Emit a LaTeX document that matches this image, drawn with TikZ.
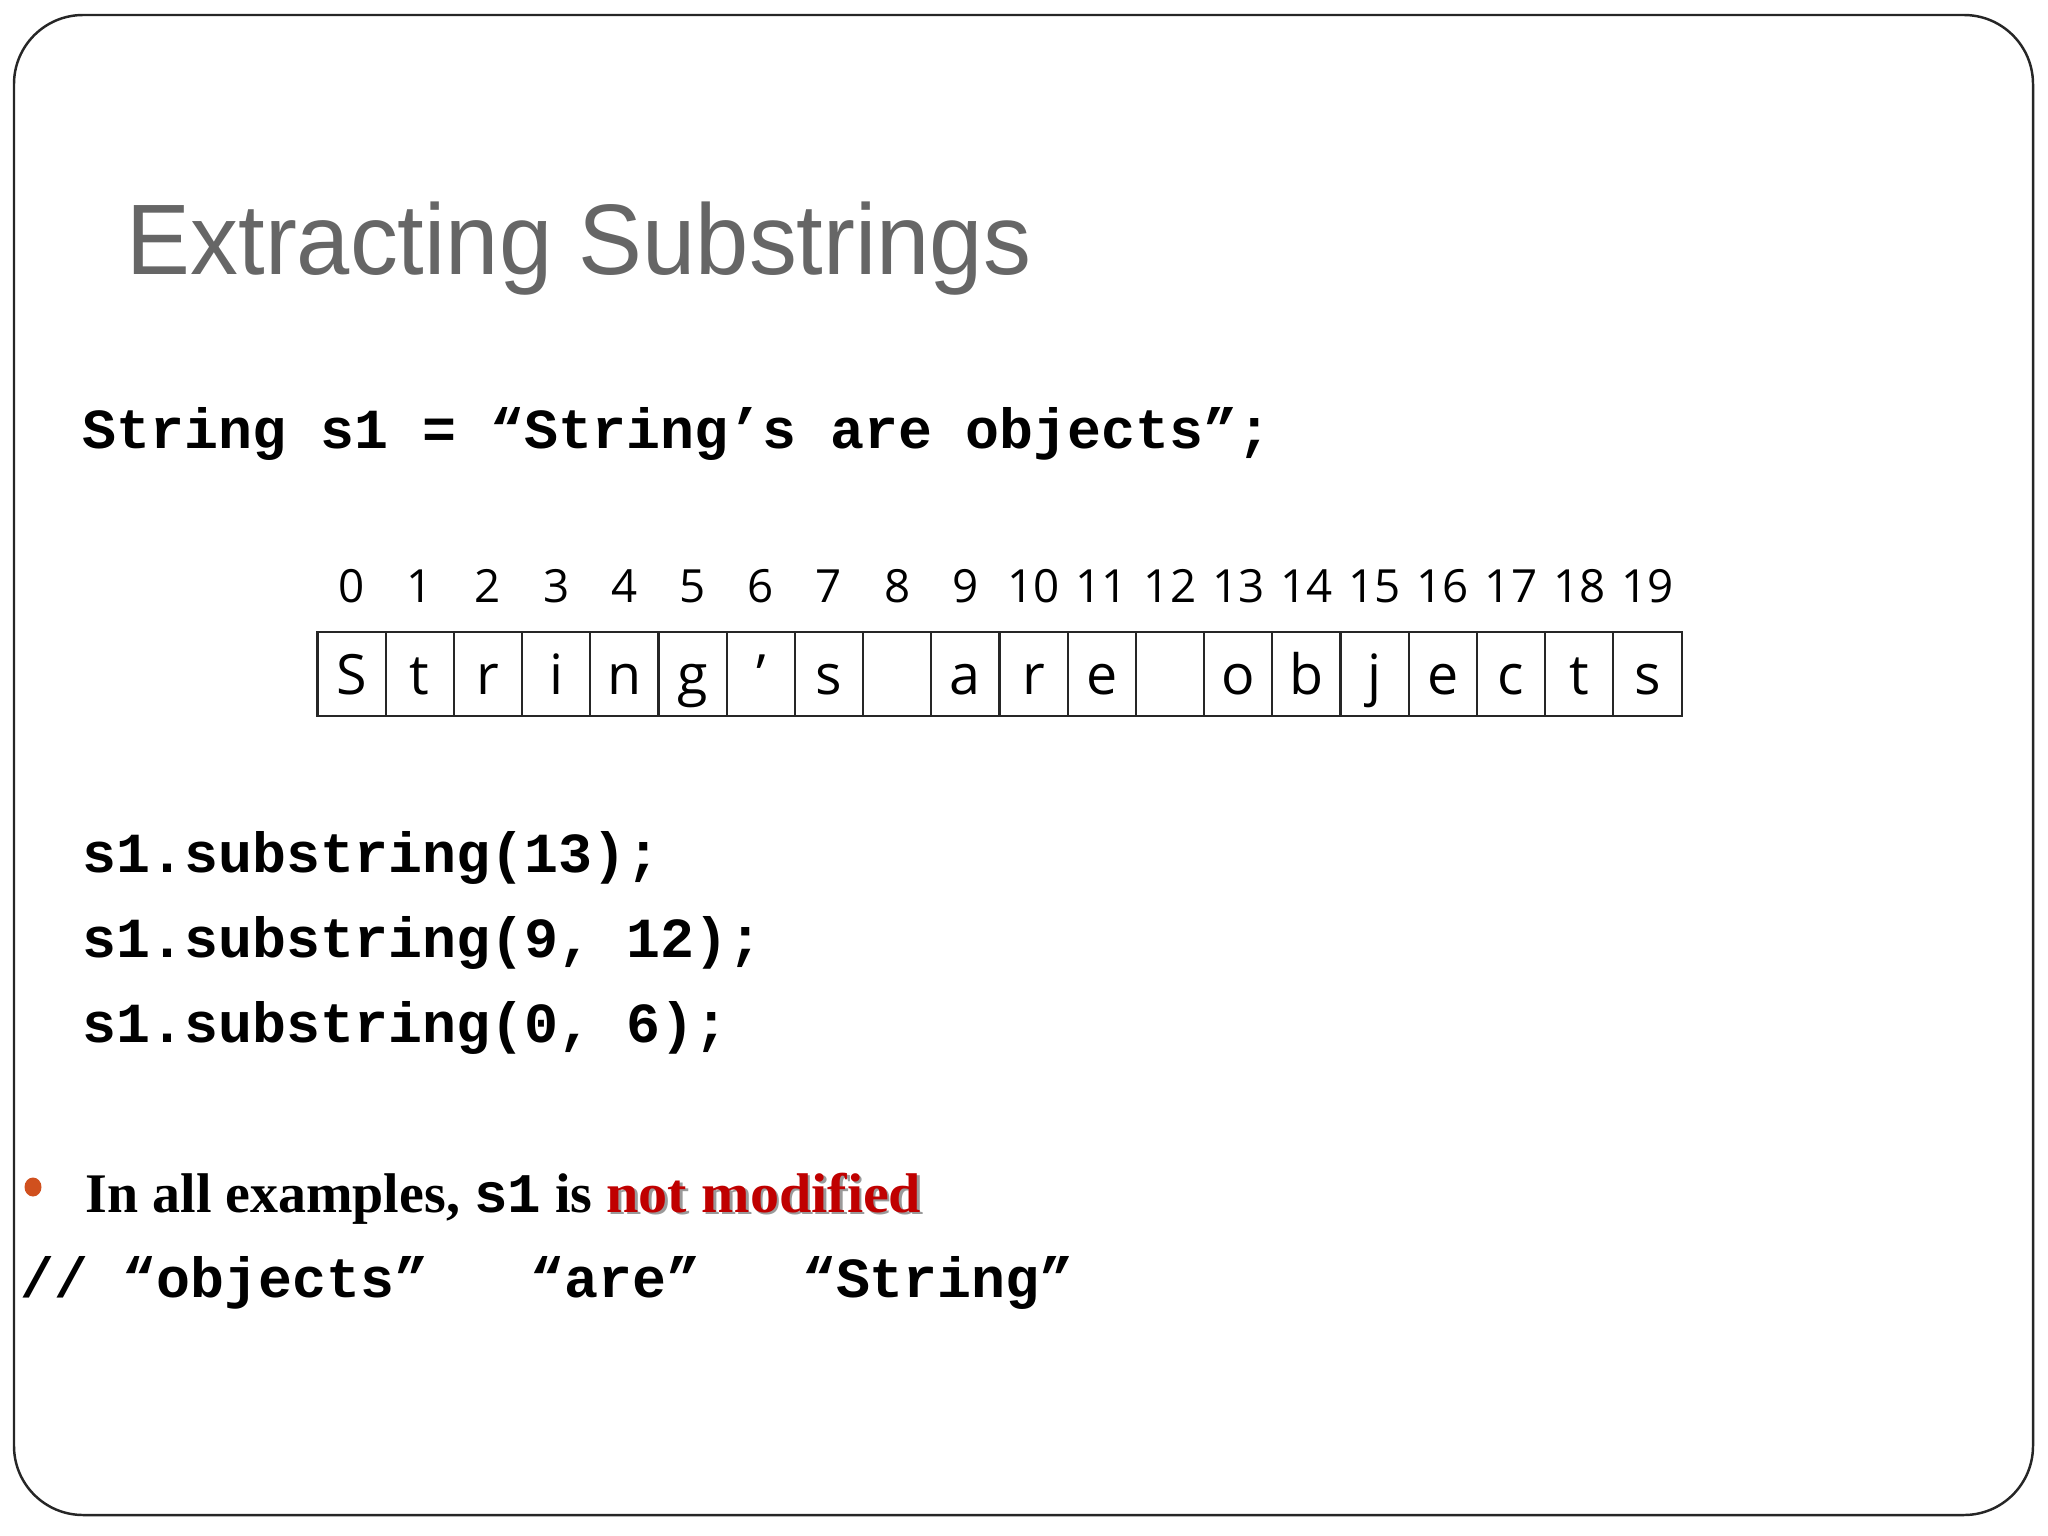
\documentclass[tikz,border=0pt]{standalone}
\usepackage{fontspec}
\setmainfont{Liberation Serif}
\newfontfamily\titlefont{Liberation Sans}
\newfontfamily\codefont{Liberation Mono}
\newfontfamily\idxfont{Open Sans}
\definecolor{titlegray}{HTML}{666666}
\definecolor{bulletc}{HTML}{D0501E}
\definecolor{notred}{HTML}{C00000}
\definecolor{shadowc}{HTML}{9A9A9A}
\newcommand{\notmod}[1]{\scalebox{1.04}[1]{#1}}
\tikzset{
  frame/.style={draw=black!85, line width=0.7pt, rounded corners=0.69cm},
  titlestyle/.style={inner sep=0pt, anchor=base west, text=titlegray, font=\titlefont\fontsize{28.5}{34}\selectfont},
  codestyle/.style={inner sep=0pt, anchor=base west, font=\codefont\bfseries\fontsize{16.1}{19}\selectfont},
  bodystyle/.style={inner sep=0pt, anchor=base west, font=\bfseries\fontsize{15.9}{19}\selectfont},
  cellbox/.style={draw=black!85, line width=0.6pt, minimum width=0.6824cm, minimum height=0.84cm, inner sep=0pt},
  celltxt/.style={inner sep=0pt, anchor=base, font=\idxfont\fontsize{15.8}{19}\selectfont},
  idxtxt/.style={inner sep=0pt, anchor=base, font=\idxfont\fontsize{13}{16}\selectfont},
  bulletdot/.style={fill=bulletc, draw=none}
}
\begin{document}
\begin{tikzpicture}[x=0.01cm, y=-0.01cm]
\useasboundingbox (0,0) rectangle (2048,1536);
\draw[frame] (14,15) rectangle (2033,1515);
\node[titlestyle] (title) at (126,274) {\scalebox{0.955}[1]{Extracting Substrings}};
\node[codestyle] (decl) at (82,448) {String s1 = “String’s are objects”;};
\foreach \ch [count=\i from 0] in {S,t,r,i,n,g,’,s,{},a,r,e,{},o,b,j,e,c,t,s} {
  \node[cellbox] (c\i) at ({317.5+68.2*(\i+0.5)},674) {};
  \node[celltxt] (l\i) at ({317.5+68.2*(\i+0.5)},694) {\ch};
  \node[idxtxt] (i\i) at ({317.5+68.2*(\i+0.5)},602) {\i};
}
\node[codestyle] (sub1) at (82,872) {s1.substring(13);};
\node[codestyle] (sub2) at (82,957) {s1.substring(9, 12);};
\node[codestyle] (sub3) at (82,1042) {s1.substring(0, 6);};
\fill[bulletdot] (33,1187) ellipse (8.5 and 9.5);
\node[bodystyle] (note) at (85,1212) {In all examples, {\codefont s1} is \makebox[0pt][l]{\hspace{0.8pt}\raisebox{-0.8pt}{\textcolor{shadowc}{\notmod{not modified}}}}\textcolor{notred}{\notmod{not modified}}};
\node[codestyle] (res) at (20,1297) {// “objects”\ \ \ “are”\ \ \ “String”};
\end{tikzpicture}
\end{document}
